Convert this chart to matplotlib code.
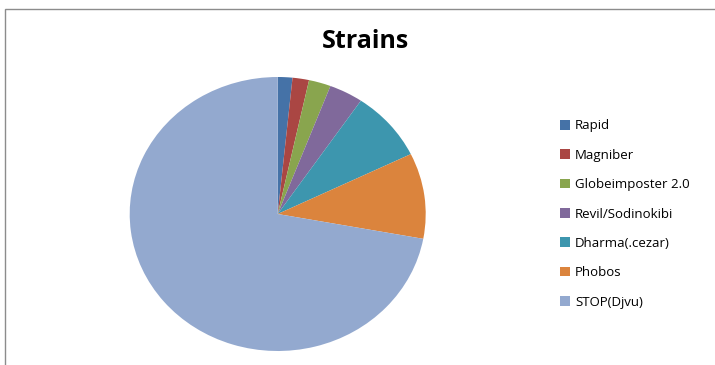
import matplotlib.pyplot as plt
from matplotlib.patches import Rectangle, Patch

# Share of each strain (percent)
strains = ['Rapid', 'Magniber', 'Globeimposter 2.0', 'Revil/Sodinokibi',
           'Dharma(.cezar)', 'Phobos', 'STOP(Djvu)']
shares = [1.6, 1.8, 2.4, 3.7, 8.3, 10.1, 72.1]
colors = ['#4572A7', '#AA4643', '#89A54E', '#80699B', '#3D96AE', '#DB843D', '#93A9CF']

plt.rcParams['font.family'] = ['Open Sans', 'DejaVu Sans']

W, H = 715, 365
fig = plt.figure(figsize=(W / 100, H / 100), dpi=100)

# chart border (top and left edges visible)
fig.patches.append(Rectangle((5 / W, -0.1), 1.2, (H - 9) / H + 0.1,
                             transform=fig.transFigure, fill=False,
                             edgecolor='#8c8c8c', linewidth=1.0))

# pie slightly wider than tall, like the source
cx, cy, rx, ry = 277.7, H - 214, 148, 137
ax = fig.add_axes([(cx - rx) / W, (cy - ry) / H, 2 * rx / W, 2 * ry / H])
ax.pie(shares, colors=colors, startangle=90, counterclock=False,
       radius=1, wedgeprops=dict(linewidth=0))
ax.set_aspect('auto')
ax.set_xlim(-1, 1)
ax.set_ylim(-1, 1)
ax.axis('off')

fig.text(365 / W, 1 - 41 / H, 'Strains', ha='center', va='center',
         fontsize=18, fontweight='bold')

handles = [Patch(facecolor=c, edgecolor='none') for c in colors]
fig.legend(handles, strains, loc='center left',
           bbox_to_anchor=(548 / W, 1 - 214 / H), frameon=False,
           fontsize=9.5, handlelength=0.75, handleheight=0.75,
           handletextpad=0.4, labelspacing=1.24)

fig.savefig('out.png', dpi=100)
